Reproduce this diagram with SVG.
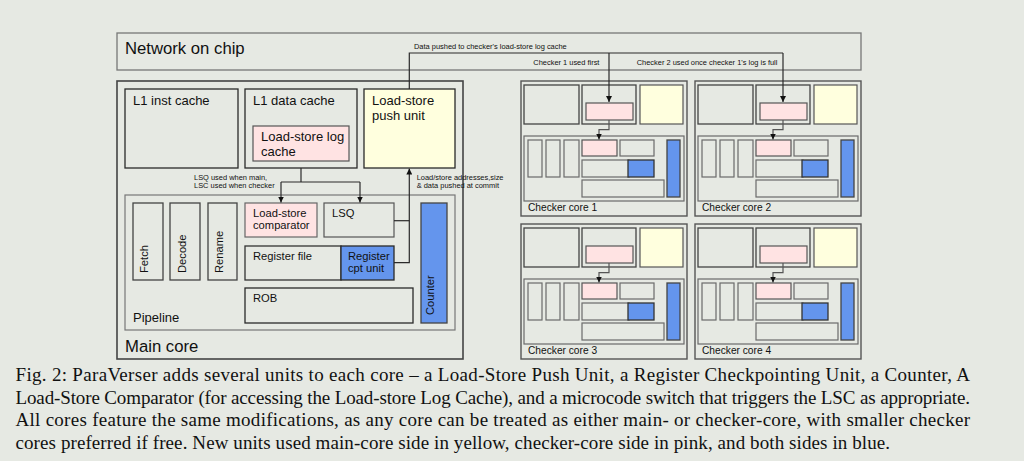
<svg xmlns="http://www.w3.org/2000/svg" xmlns:xlink="http://www.w3.org/1999/xlink" width="1024" height="461" viewBox="0 0 1024 461">
<style>
  text { font-family: "Liberation Sans", Arial, sans-serif; fill: #111; }
  .big { font-size: 16.7px; }
  .lbl { font-size: 13px; }
  .sm { font-size: 11.2px; }
  .ck { font-size: 10.2px; }
  .tiny { font-size: 7.45px; }
  .cap { font-family: "Liberation Serif", "Times New Roman", serif; font-size: 19px; fill: #111; }
  .box { fill: none; stroke: #2a2a2a; stroke-width: 1.3; }
  .gbox { fill: none; stroke: #6a6a6a; stroke-width: 1.2; }
  .outer { fill: none; stroke: #444; stroke-width: 1.6; }
  .pink { fill: #ffe3e3; }
  .yellow { fill: #ffffde; }
  .blue { fill: #6495ed; }
  .conn { fill: none; stroke: #2a2a2a; stroke-width: 1.2; }
  .cconn { fill: none; stroke: #555; stroke-width: 1.2; }
</style>
<defs>
  <marker id="arr" viewBox="0 0 10 10" refX="10" refY="5" markerWidth="6" markerHeight="6" orient="auto" markerUnits="userSpaceOnUse">
    <path d="M0,0 L10,5 L0,10 z" fill="#111"/>
  </marker>
  <g id="checkerShapes">
    <rect class="outer" x="0" y="0" width="166" height="135" style="stroke:#555;stroke-width:1.4"/>
    <rect class="box" x="3" y="4" width="55" height="39" style="stroke:#444"/>
    <rect class="box" x="61" y="4" width="54" height="39" style="stroke:#444"/>
    <rect class="gbox pink" x="65" y="22" width="47" height="17" style="stroke:#555"/>
    <rect class="gbox yellow" x="119" y="4" width="43" height="39" style="stroke:#555"/>
    <rect class="gbox" x="3" y="55" width="160" height="65"/>
    <rect class="gbox" x="7" y="59" width="14" height="37"/>
    <rect class="gbox" x="25" y="59" width="14" height="37"/>
    <rect class="gbox" x="43" y="59" width="15" height="37"/>
    <rect class="gbox pink" x="61" y="59" width="35" height="16" style="stroke:#555"/>
    <rect class="gbox" x="99" y="59" width="34" height="16"/>
    <rect class="gbox" x="61" y="79" width="47" height="17"/>
    <rect class="box blue" x="107" y="79" width="26" height="17" style="stroke:#333"/>
    <rect class="gbox" x="61" y="99" width="82" height="17"/>
    <rect class="box blue" x="146" y="59" width="13" height="57" style="stroke:#444"/>
  </g>
</defs>

<rect x="0" y="0" width="1024" height="461" fill="#e6e9e3"/>

<g id="network-on-chip">
  <rect class="gbox" x="117" y="33" width="744" height="37" style="stroke:#777;stroke-width:1.3"/>
  <text class="big" x="125" y="54">Network on chip</text>
</g>

<g id="main-core">
  <rect class="outer" x="117" y="81" width="346" height="278"/>
  <text class="big" x="125" y="352">Main core</text>
</g>
<g id="l1-inst-cache">
  <rect class="box" x="125" y="89" width="113" height="79"/>
  <text class="lbl" x="133" y="104.7">L1 inst cache</text>
</g>
<g id="l1-data-cache">
  <rect class="box" x="245" y="89" width="112" height="79"/>
  <text class="lbl" x="253" y="104.7">L1 data cache</text>
</g>
<g id="load-store-log-cache">
  <rect class="gbox pink" x="253" y="126" width="96" height="35" style="stroke:#555"/>
  <text class="lbl" x="261" y="141.3">Load-store log</text>
  <text class="lbl" x="261" y="156.3">cache</text>
</g>
<g id="load-store-push-unit">
  <rect class="box yellow" x="364" y="89" width="91" height="79"/>
  <text class="lbl" x="372" y="104.7">Load-store</text>
  <text class="lbl" x="372" y="119.7">push unit</text>
</g>
<g id="pipeline">
  <rect class="gbox" x="125" y="195" width="330" height="135" style="stroke:#777"/>
  <text class="lbl" x="133" y="321.5">Pipeline</text>
</g>
<g id="fetch">
  <rect class="box" x="133" y="203" width="30" height="77" style="stroke:#444"/>
  <text class="sm" transform="translate(148.3,273) rotate(-90)">Fetch</text>
</g>
<g id="decode">
  <rect class="box" x="170" y="203" width="30" height="77" style="stroke:#444"/>
  <text class="sm" transform="translate(186,273) rotate(-90)">Decode</text>
</g>
<g id="rename">
  <rect class="box" x="208" y="203" width="29" height="77" style="stroke:#444"/>
  <text class="sm" transform="translate(222.7,273) rotate(-90)">Rename</text>
</g>
<g id="load-store-comparator">
  <rect class="gbox pink" x="245" y="203" width="72" height="34" style="stroke:#666"/>
  <text class="sm" x="253" y="217.3">Load-store</text>
  <text class="sm" x="253" y="229.3">comparator</text>
</g>
<g id="lsq">
  <rect class="gbox" x="324" y="203" width="70" height="34" style="stroke:#555"/>
  <text class="sm" x="332" y="217.3">LSQ</text>
</g>
<g id="register-file">
  <rect class="box" x="245" y="246" width="96" height="34" style="stroke:#333"/>
  <text class="sm" x="253" y="260">Register file</text>
</g>
<g id="register-cpt-unit">
  <rect class="box blue" x="341" y="246" width="53" height="34"/>
  <text class="sm" x="348" y="260">Register</text>
  <text class="sm" x="348" y="272.3">cpt unit</text>
</g>
<g id="rob">
  <rect class="box" x="245" y="288" width="168" height="35"/>
  <text class="sm" x="253" y="301.7">ROB</text>
</g>
<g id="counter">
  <rect class="box blue" x="421" y="203" width="26" height="120" style="stroke:#444"/>
  <text class="sm" transform="translate(434,315) rotate(-90)">Counter</text>
</g>

<g id="checker-core-1" transform="translate(521,81)">
  <use xlink:href="#checkerShapes" href="#checkerShapes"/>
  <text class="ck" x="7" y="130">Checker core 1</text>
</g>
<g id="checker-core-2" transform="translate(695,81)">
  <use xlink:href="#checkerShapes" href="#checkerShapes"/>
  <text class="ck" x="7" y="130">Checker core 2</text>
</g>
<g id="checker-core-3" transform="translate(521,224)">
  <use xlink:href="#checkerShapes" href="#checkerShapes"/>
  <text class="ck" x="7" y="130">Checker core 3</text>
</g>
<g id="checker-core-4" transform="translate(695,224)">
  <use xlink:href="#checkerShapes" href="#checkerShapes"/>
  <text class="ck" x="7" y="130">Checker core 4</text>
</g>

<g id="connectors">
  <path class="conn" d="M301,168 V182"/>
  <path class="conn" d="M281,182 H360"/>
  <path class="conn" d="M281,182 V202.5" marker-end="url(#arr)"/>
  <path class="conn" d="M360,182 V202.5" marker-end="url(#arr)"/>
  <path class="conn" d="M394,220.7 H409.3"/>
  <path class="conn" d="M394,262.7 H409.3 V168.5" marker-end="url(#arr)"/>
  <path class="conn" d="M409.3,89 V53 H783"/>
  <path class="conn" d="M609,53 V102" marker-end="url(#arr)"/>
  <path class="conn" d="M783,53 V102" marker-end="url(#arr)"/>
  <path class="cconn" d="M609,120 V129.7 H599 V139.5" marker-end="url(#arr)"/>
  <path class="cconn" d="M783,120 V129.7 H773 V139.5" marker-end="url(#arr)"/>
  <path class="cconn" d="M609,263 V272.7 H599 V282.5" marker-end="url(#arr)"/>
  <path class="cconn" d="M783,263 V272.7 H773 V282.5" marker-end="url(#arr)"/>
  <text class="tiny" x="414" y="48.7">Data pushed to checker's load-store log cache</text>
  <text class="tiny" x="533.3" y="64.7">Checker 1 used first</text>
  <text class="tiny" x="636.7" y="64.7">Checker 2 used once checker 1's log is full</text>
  <text class="tiny" x="194" y="179.5">LSQ used when main,</text>
  <text class="tiny" x="194" y="188.3">LSC used when checker</text>
  <text class="tiny" x="416.7" y="179.5">Load/store addresses,size</text>
  <text class="tiny" x="416.7" y="188.3">&amp; data pushed at commit</text>
</g>

<g id="caption">
  <text class="cap" x="15.5" y="381" textLength="954.5" lengthAdjust="spacing">Fig. 2: ParaVerser adds several units to each core – a Load-Store Push Unit, a Register Checkpointing Unit, a Counter, A</text>
  <text class="cap" x="15.5" y="403.7" textLength="954.5" lengthAdjust="spacing">Load-Store Comparator (for accessing the Load-store Log Cache), and a microcode switch that triggers the LSC as appropriate.</text>
  <text class="cap" x="15.5" y="426.3" textLength="954.5" lengthAdjust="spacing">All cores feature the same modifications, as any core can be treated as either main- or checker-core, with smaller checker</text>
  <text class="cap" x="15.5" y="449" textLength="874.5" lengthAdjust="spacing">cores preferred if free. New units used main-core side in yellow, checker-core side in pink, and both sides in blue.</text>
</g>
</svg>
